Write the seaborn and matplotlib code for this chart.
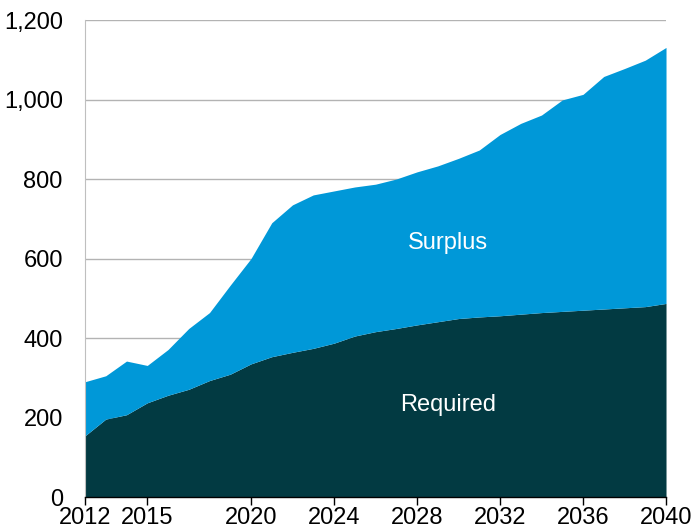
import numpy as np
import pandas as pd
import seaborn as sns
import matplotlib.pyplot as plt

years = list(range(2012, 2041))
required = [154, 196, 207, 237, 256, 271, 293, 309, 335, 353, 364, 374, 387, 405, 416,
            424, 433, 441, 449, 453, 456, 460, 464, 467, 470, 473, 476, 479, 487]
total = [290, 305, 342, 331, 371, 424, 464, 533, 600, 690, 735, 760, 770, 780, 787,
         800, 818, 833, 852, 873, 912, 940, 961, 999, 1013, 1058, 1078, 1099, 1131]
xticks = [2012, 2015, 2020, 2024, 2028, 2032, 2036, 2040]

df = pd.DataFrame({'year': years, 'required': required, 'total': total})
df['surplus'] = df['total'] - df['required']

sns.set_style('white')
plt.rcParams['font.family'] = ['Liberation Sans', 'DejaVu Sans']

fig = plt.figure(figsize=(6.95, 5.27), dpi=100)
ax = fig.add_axes([0.1223, 0.0569, 0.8360, 0.9051])

ax.stackplot(df['year'], df['required'], df['surplus'],
             colors=['#023a42', '#0098d8'], linewidth=0, zorder=2)

ax.set_xlim(2012, 2040)
ax.set_ylim(0, 1200)
ax.set_yticks(range(0, 1201, 200))
ax.set_yticklabels([f'{v:,}' for v in range(0, 1201, 200)])
ax.set_xticks(xticks)
ax.yaxis.grid(True, color='#b3b3b3', linewidth=1, zorder=0)
ax.set_axisbelow(True)

for s in ['top', 'right']:
    ax.spines[s].set_visible(False)
ax.spines['left'].set_color('#bfbfbf')
ax.spines['left'].set_linewidth(0.8)
ax.spines['bottom'].set_color('black')
ax.spines['bottom'].set_linewidth(1)
ax.spines['bottom'].set_zorder(3)

ax.tick_params(axis='x', direction='out', length=6, width=1, colors='black',
               labelsize=17, pad=1, bottom=True)
ax.tick_params(axis='y', length=0, labelsize=17, pad=16, colors='black')
ax.set_xlabel('')
ax.set_ylabel('')

ax.text(2029.5, 640, 'Surplus', color='white', fontsize=17, ha='center', va='center')
ax.text(2029.5, 232, 'Required', color='white', fontsize=17, ha='center', va='center')

plt.savefig('out.png', dpi=100)
